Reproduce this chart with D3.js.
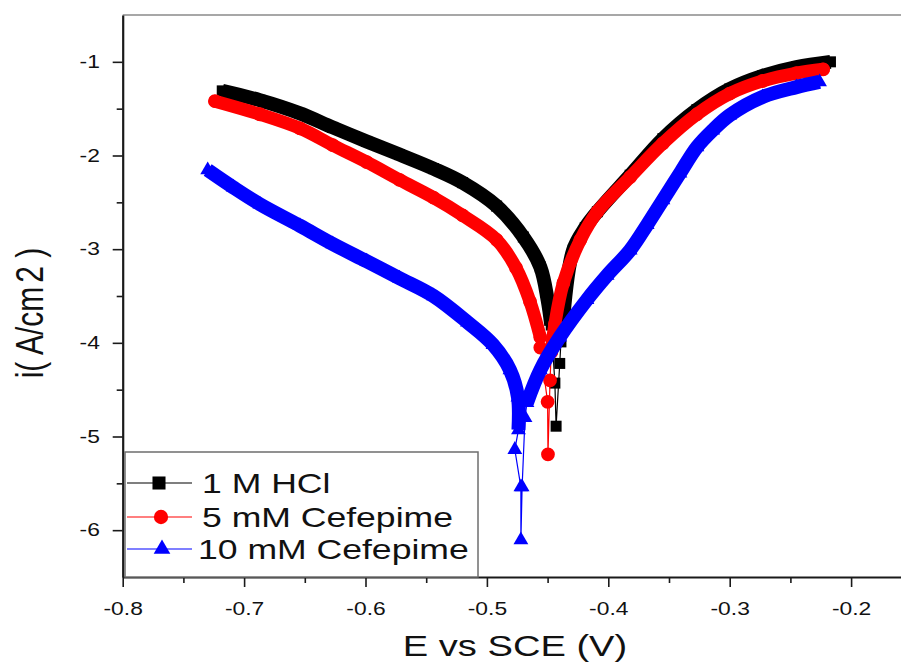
<!DOCTYPE html>
<html lang="en">
<head>
<meta charset="UTF-8">
<title>Tafel plots - Cefepime</title>
<script src="https://d3js.org/d3.v7.min.js"></script>
<style>
  body { margin: 0; background: #fff; }
  svg { display: block; font-family: "Liberation Sans", Arial, sans-serif; }
</style>
</head>
<body>
<svg width="901" height="663"></svg>
<script>
// E (V vs SCE) and log i values, in sweep order
// 1 M HCl
const hclCathE = [-0.718, -0.687, -0.654, -0.627, -0.599, -0.572, -0.544, -0.520, -0.492, -0.470, -0.456, -0.450, -0.447];
const hclCathI = [-1.31, -1.41, -1.55, -1.70, -1.85, -1.99, -2.14, -2.29, -2.54, -2.87, -3.19, -3.54, -3.81];
const hclCorrE = [-0.444, -0.443, -0.440, -0.439];
const hclCorrI = [-4.43, -4.89, -4.22, -3.99];
const hclAnodE = [-0.437, -0.429, -0.419, -0.409, -0.382, -0.355, -0.327, -0.300, -0.273, -0.245, -0.217];
const hclAnodI = [-3.72, -3.01, -2.77, -2.60, -2.21, -1.82, -1.51, -1.29, -1.15, -1.055, -1.00];

// 5 mM Cefepime
const c5CathE = [-0.724, -0.687, -0.654, -0.627, -0.599, -0.572, -0.544, -0.520, -0.492, -0.476, -0.4645, -0.456];
const c5CathI = [-1.42, -1.56, -1.71, -1.89, -2.07, -2.26, -2.45, -2.64, -2.90, -3.20, -3.56, -3.94];
const c5CorrE = [-0.456, -0.450, -0.4497, -0.448];
const c5CorrI = [-4.05, -4.63, -5.19, -4.40];
const c5AnodE = [-0.447, -0.444, -0.437, -0.423, -0.409, -0.382, -0.355, -0.327, -0.300, -0.273, -0.245, -0.223];
const c5AnodI = [-4.10, -3.80, -3.36, -2.90, -2.60, -2.23, -1.87, -1.56, -1.34, -1.205, -1.12, -1.08];

// 10 mM Cefepime
const c10CathE = [-0.730, -0.709, -0.687, -0.654, -0.627, -0.599, -0.572, -0.544, -0.516, -0.495, -0.481, -0.4744, -0.474];
const c10CathI = [-2.155, -2.34, -2.52, -2.75, -2.945, -3.13, -3.31, -3.50, -3.78, -4.02, -4.29, -4.58, -4.93];
const c10CorrE = [-0.477, -0.472, -0.472, -0.471, -0.4686];
const c10CorrI = [-5.14, -5.54, -6.105, -5.54, -4.80];
const c10AnodE = [-0.467, -0.456, -0.440, -0.4176, -0.401, -0.382, -0.368, -0.355, -0.341, -0.327, -0.314, -0.300, -0.273, -0.245, -0.226];
const c10AnodI = [-4.64, -4.29, -3.94, -3.54, -3.28, -3.01, -2.74, -2.475, -2.19, -1.91, -1.73, -1.57, -1.375, -1.27, -1.215];

const seriesNames = ["1 M HCl", "5 mM Cefepime", "10 mM Cefepime"];

const xTicks = [-0.8, -0.7, -0.6, -0.5, -0.4, -0.3, -0.2];
const xMinor = [-0.75, -0.65, -0.55, -0.45, -0.35, -0.25, -0.15];
const yTicks = [-6, -5, -4, -3, -2, -1];
const yMinor = [-5.5, -4.5, -3.5, -2.5, -1.5];

// horizontal stretch of the text in the original picture
const SX = 1.27;

const svg = d3.select("svg");

const x = d3.scaleLinear().domain([-0.8, -0.15]).range([122.7, 911.8]);
const y = d3.scaleLinear().domain([-6.5, -0.5]).range([577, 15]);

const zip = (es, is) => es.map((e, k) => [e, is[k]]);

const series = [
  { cath: zip(hclCathE, hclCathI), corr: zip(hclCorrE, hclCorrI), anod: zip(hclAnodE, hclAnodI),
    color: "#000000", symbol: d3.symbolSquare, size: 121, band: 14, cap: "butt" },
  { cath: zip(c5CathE, c5CathI), corr: zip(c5CorrE, c5CorrI), anod: zip(c5AnodE, c5AnodI),
    color: "#ff0000", symbol: d3.symbolCircle, size: 150, band: 13, cap: "round" },
  { cath: zip(c10CathE, c10CathI), corr: zip(c10CorrE, c10CorrI), anod: zip(c10AnodE, c10AnodI),
    color: "#0000ff", symbol: d3.symbolTriangle, size: 95, band: 14, cap: "butt" }
];

// frame lines (top, and right edge beyond the crop)
svg.append("line")
   .attr("x1", x(-0.8)).attr("x2", x(-0.15))
   .attr("y1", y(-0.5)).attr("y2", y(-0.5))
   .attr("stroke", "#8a8a8a").attr("stroke-width", 1.5);
svg.append("line")
   .attr("x1", x(-0.15)).attr("x2", x(-0.15))
   .attr("y1", y(-0.5)).attr("y2", y(-6.5))
   .attr("stroke", "#8a8a8a").attr("stroke-width", 1.5);

const band = d3.line().x(d => x(d[0])).y(d => y(d[1])).curve(d3.curveCatmullRom);
const thin = d3.line().x(d => x(d[0])).y(d => y(d[1]));

series.forEach(s => {
  const all = s.cath.concat(s.corr, s.anod);
  const g = svg.append("g");
  g.append("path").attr("d", thin(all))
   .attr("fill", "none").attr("stroke", s.color).attr("stroke-width", 1.2);
  [s.cath, s.anod].forEach(part => {
    g.append("path").attr("d", band(part))
     .attr("fill", "none").attr("stroke", s.color)
     .attr("stroke-width", s.band).attr("stroke-linecap", s.cap).attr("stroke-linejoin", "round");
  });
  g.selectAll(".m").data(all).join("path")
   .attr("transform", d => `translate(${x(d[0])},${y(d[1])})`)
   .attr("d", d3.symbol().type(s.symbol).size(s.size))
   .attr("fill", s.color);
});

// axes
svg.append("g").attr("transform", `translate(0,${y(-6.5)})`)
   .call(d3.axisBottom(x).tickValues(xTicks).tickSize(10).tickSizeOuter(0).tickPadding(15)
        .tickFormat(d => d.toFixed(1)));
svg.append("g").attr("transform", `translate(0,${y(-6.5)})`)
   .call(d3.axisBottom(x).tickValues(xMinor).tickSize(6).tickSizeOuter(0).tickFormat(""))
   .select(".domain").remove();

svg.append("g").attr("transform", `translate(${x(-0.8)},0)`)
   .call(d3.axisLeft(y).tickValues(yTicks).tickSize(10).tickSizeOuter(0).tickPadding(8)
        .tickFormat(d => String(d)));
svg.append("g").attr("transform", `translate(${x(-0.8)},0)`)
   .call(d3.axisLeft(y).tickValues(yMinor).tickSize(6).tickSizeOuter(0).tickFormat(""))
   .select(".domain").remove();

svg.selectAll(".domain").attr("stroke", "#1a1a1a").attr("stroke-width", 2.2);
svg.selectAll(".tick line").attr("stroke", "#1a1a1a").attr("stroke-width", 1.6);
svg.selectAll(".tick text")
   .attr("font-family", "Liberation Sans, Arial, sans-serif")
   .attr("font-size", 18).attr("fill", "#111")
   .attr("transform", `scale(${SX},1)`);

// axis titles
svg.append("text")
   .attr("transform", `translate(515,656) scale(${SX},1)`)
   .attr("text-anchor", "middle").attr("font-size", 30).attr("fill", "#111")
   .text("E vs SCE (V)");

const yt = svg.append("text")
   .attr("transform", `translate(43,313) scale(${SX},1) rotate(-90)`)
   .attr("text-anchor", "middle").attr("font-size", 30).attr("fill", "#111");
yt.append("tspan").text("i( A/cm");
yt.append("tspan").attr("dx", 4).text("2");
yt.append("tspan").text(" )");

// legend
const leg = svg.append("g");
leg.append("rect")
   .attr("x", 125).attr("y", 452).attr("width", 353).attr("height", 125)
   .attr("fill", "#fff").attr("stroke", "#6e6e6e").attr("stroke-width", 1.5);
const legY = [483, 517, 549];
const legMarkerX = [159, 161, 162];
const legSize = [170, 160, 120];
seriesNames.forEach((name, k) => {
  const s = series[k];
  leg.append("line")
     .attr("x1", 127).attr("x2", 192).attr("y1", legY[k]).attr("y2", legY[k])
     .attr("stroke", s.color).attr("stroke-width", 1.2);
  leg.append("path")
     .attr("transform", `translate(${legMarkerX[k]},${legY[k]})`)
     .attr("d", d3.symbol().type(s.symbol).size(legSize[k]))
     .attr("fill", s.color);
  leg.append("text")
     .attr("transform", `translate(${k === 2 ? 198 : 202},${legY[k] + 10}) scale(${SX},1)`)
     .attr("font-size", 28).attr("fill", "#111")
     .text(name);
});
</script>
</body>
</html>
